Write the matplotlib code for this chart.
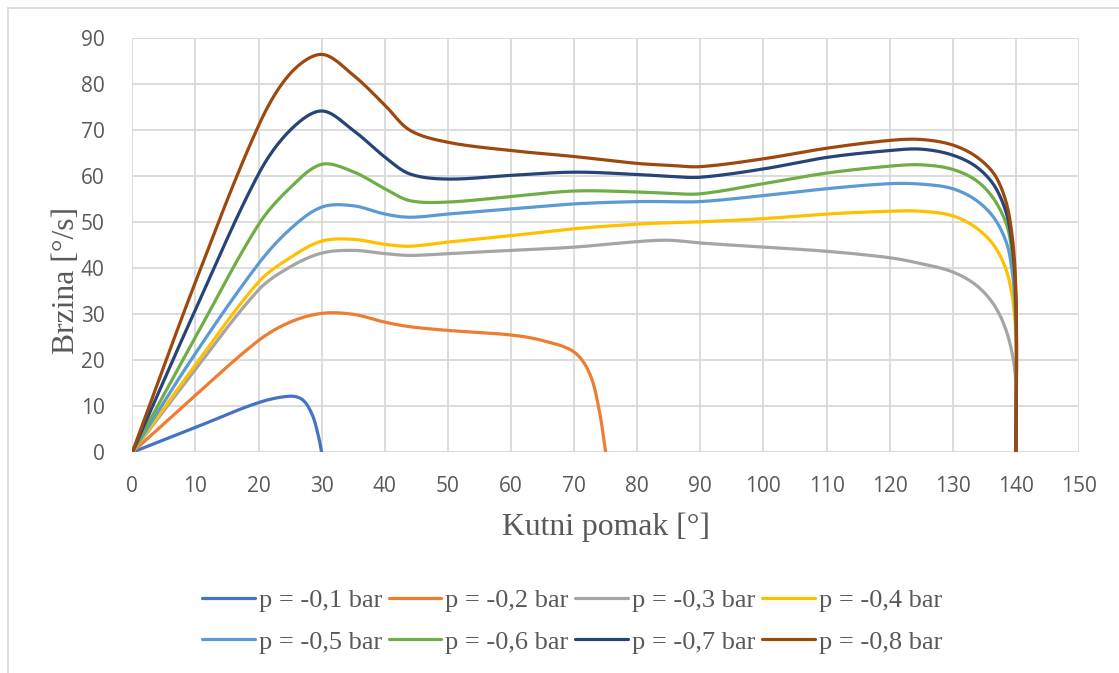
import numpy as np
import matplotlib
matplotlib.use("Agg")
import matplotlib.pyplot as plt
from matplotlib.lines import Line2D

# data: Kutni pomak [deg] vs Brzina [deg/s]
labels = ['p = -0,1 bar', 'p = -0,2 bar', 'p = -0,3 bar', 'p = -0,4 bar',
          'p = -0,5 bar', 'p = -0,6 bar', 'p = -0,7 bar', 'p = -0,8 bar']
colors = ['#4472C4', '#ED7D31', '#A5A5A5', '#FFC000',
          '#5B9BD5', '#70AD47', '#264478', '#9E480E']

x_01 = [0, 10, 20, 25, 27, 28.5, 29.5, 30]
y_01 = [0, 5.4, 10.8, 12.2, 11.4, 8.2, 3.5, 0]

x_02 = [0, 10, 20, 25, 30, 35, 40, 44, 50, 60, 65, 70, 72.5, 74, 75]
y_02 = [0, 12.4, 24.3, 28.3, 30.2, 30.0, 28.3, 27.3, 26.5, 25.5, 24.3, 21.8, 17.0, 9.0, 0]

# the six long series share the same angles
x_long = [0, 10, 20, 25, 30, 35, 40, 44, 50, 60, 70, 80, 85, 90, 100, 110,
          120, 125, 130, 134, 137, 139, 140, 140]
y_03 = [0, 18, 35.3, 40.3, 43.3, 43.9, 43.2, 42.8, 43.2, 43.9, 44.6, 45.8, 46.1,
        45.5, 44.6, 43.7, 42.3, 41.0, 39.2, 36.0, 31.0, 24.0, 15.0, 0]
y_04 = [0, 19, 37, 42.3, 45.9, 46.3, 45.2, 44.8, 45.7, 47.1, 48.6, 49.6, 49.9,
        50.1, 50.8, 51.8, 52.4, 52.4, 51.4, 48.5, 44.0, 37.0, 25.0, 0]
y_05 = [0, 21.5, 41, 48.5, 53.3, 53.6, 51.8, 51.1, 51.8, 52.9, 54.0, 54.5, 54.5,
        54.5, 55.8, 57.3, 58.4, 58.3, 57.3, 54.5, 50.0, 43.0, 28.0, 0]
y_06 = [0, 25, 49.5, 57.5, 62.6, 61, 57.3, 54.7, 54.4, 55.6, 56.8, 56.6, 56.3,
        56.2, 58.4, 60.7, 62.2, 62.5, 61.5, 58.8, 54.0, 47.0, 31.0, 0]
y_07 = [0, 31, 60.5, 70, 74.2, 70, 64.2, 60.5, 59.4, 60.2, 60.9, 60.4, 60.0,
        59.8, 61.6, 64.1, 65.6, 65.9, 64.6, 61.8, 57.0, 49.0, 33.0, 0]
y_08 = [0, 37, 71, 82.3, 86.5, 82, 75.5, 70, 67.4, 65.6, 64.3, 62.8, 62.4,
        62.1, 63.8, 66.1, 67.8, 68.0, 66.8, 64.0, 59.5, 51.0, 35.0, 0]

series = [(x_01, y_01), (x_02, y_02), (x_long, y_03), (x_long, y_04),
          (x_long, y_05), (x_long, y_06), (x_long, y_07), (x_long, y_08)]


def smooth(xs, ys, n=30):
    # smoothed line like Excel, tangents scaled by chord length (pixel space)
    p = np.column_stack([xs, ys]).astype(float)
    scale = np.array([6.31, 4.6])
    q = p * scale
    d = np.hypot(*(np.diff(q, axis=0).T))
    m = len(p)
    tang = np.zeros_like(q)
    for i in range(m):
        a = q[max(i - 1, 0)]
        b = q[min(i + 1, m - 1)]
        dl = d[i - 1] if i > 0 else 0
        dr = d[i] if i < m - 1 else 0
        tang[i] = (b - a) / max(dl + dr, 1e-9)
    t = np.linspace(0, 1, n)[:, None]
    out = []
    for i in range(m - 1):
        p1, p2 = q[i], q[i + 1]
        c1 = p1 + tang[i] * d[i] / 3
        c2 = p2 - tang[i + 1] * d[i] / 3
        seg = (1 - t) ** 3 * p1 + 3 * (1 - t) ** 2 * t * c1 + 3 * (1 - t) * t ** 2 * c2 + t ** 3 * p2
        out.append(seg)
    out = np.vstack(out) / scale
    return out[:, 0], out[:, 1]


W, H = 1119, 673
fig = plt.figure(figsize=(W / 100, H / 100), dpi=100)
ax = fig.add_axes([132.3 / W, 1 - 452.3 / H, (1079 - 132.3) / W, (452.3 - 38.3) / H])

handles = []
for (xs, ys), lab, c in zip(series, labels, colors):
    sx, sy = smooth(xs, ys)
    h, = ax.plot(sx, sy, color=c, lw=2.3, label=lab, solid_capstyle='round')
    handles.append(h)

ax.set_xlim(0, 150)
ax.set_ylim(0, 90)
ax.set_xticks(np.arange(0, 151, 10))
ax.set_yticks(np.arange(0, 91, 10))
ax.grid(True, color='#D9D9D9', lw=1.3)
ax.set_axisbelow(True)
for s in ax.spines.values():
    s.set_visible(False)
ax.tick_params(length=0, labelsize=15, labelcolor='#595959', pad=20)
for t in ax.get_xticklabels() + ax.get_yticklabels():
    t.set_fontfamily('Open Sans')
ax.tick_params(axis='x', pad=17)

fig.text(606 / W, 1 - 527 / H, 'Kutni pomak [°]', family='Liberation Serif',
         fontsize=22.8, color='#595959', ha='center', va='center')
fig.text(66 / W, 1 - 280 / H, 'Brzina [°/s]', family='Liberation Serif',
         fontsize=22.8, color='#595959', ha='center', va='center', rotation=90)

# legend rows: 0.1..0.4 on top, 0.5..0.8 below
order = [0, 4, 1, 5, 2, 6, 3, 7]
leg = fig.legend([handles[i] for i in order], [labels[i] for i in order],
                 ncol=4, loc='center', bbox_to_anchor=(572 / W, 1 - 621 / H),
                 frameon=False, prop={'family': 'Liberation Serif', 'size': 19},
                 handlelength=2.0, handletextpad=0.15, columnspacing=0.25,
                 labelspacing=0.7, borderpad=0)
for t in leg.get_texts():
    t.set_color('#595959')

# chart border (left and top visible)
fig.add_artist(Line2D([7.5 / W, 7.5 / W], [0, 1 - 7.5 / H], color='#D9D9D9', lw=1.2,
                      transform=fig.transFigure))
fig.add_artist(Line2D([7.5 / W, 1], [1 - 7.5 / H, 1 - 7.5 / H], color='#D9D9D9', lw=1.2,
                      transform=fig.transFigure))

fig.savefig('out.png', dpi=100, facecolor='white')
